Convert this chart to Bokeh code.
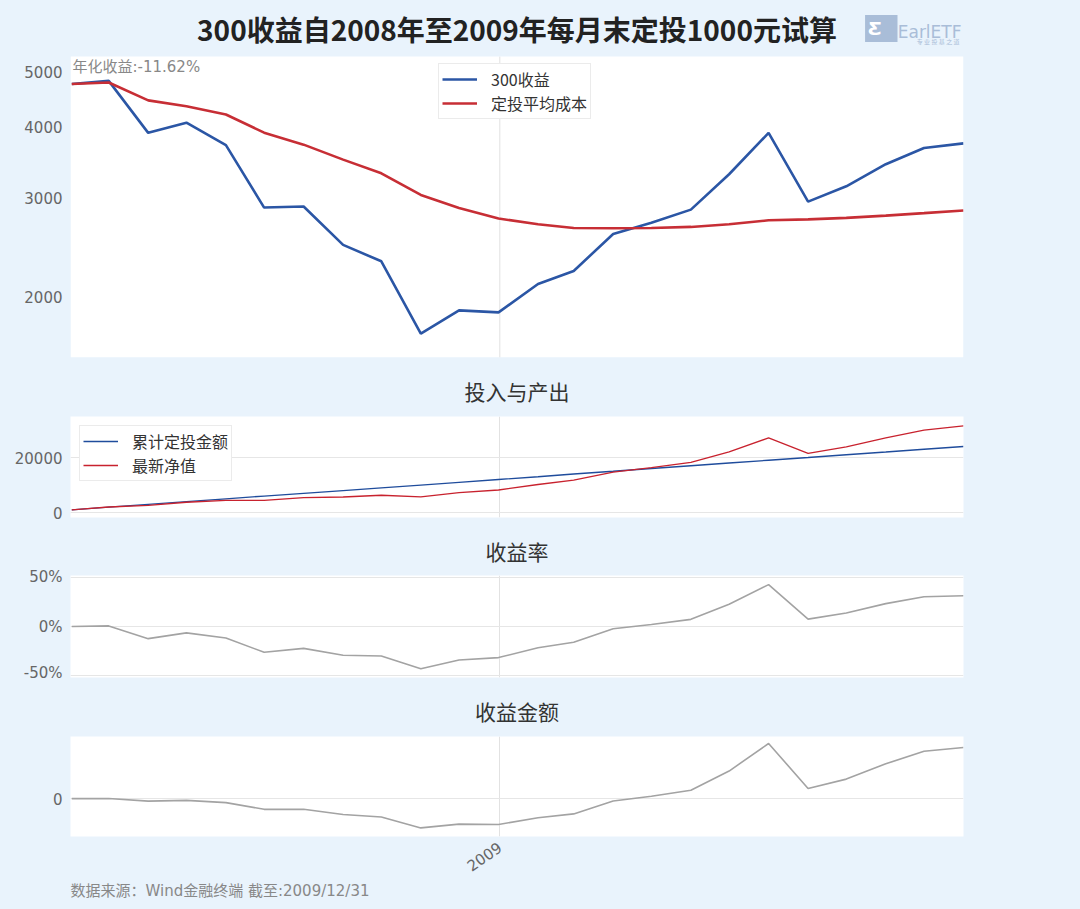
from bokeh.plotting import figure
from bokeh.models import (Range1d, FixedTicker, NumeralTickFormatter, DatetimeTickFormatter,
                          Legend, LegendItem, Label, Title)
from bokeh.layouts import column
from bokeh.embed import file_html
from bokeh.resources import INLINE
import pandas as pd

# ---------------- data ----------------
dates = ["2008-01-31", "2008-02-29", "2008-03-31", "2008-04-30", "2008-05-31", "2008-06-30",
         "2008-07-31", "2008-08-31", "2008-09-30", "2008-10-31", "2008-11-30", "2008-12-31",
         "2009-01-31", "2009-02-28", "2009-03-31", "2009-04-30", "2009-05-31", "2009-06-30",
         "2009-07-31", "2009-08-31", "2009-09-30", "2009-10-31", "2009-11-30", "2009-12-31"]
index_300 = [4761, 4822, 3903, 4067, 3714, 2880, 2892, 2474, 2315, 1725, 1896, 1880,
             2110, 2225, 2587, 2707, 2856, 3298, 3903, 2951, 3140, 3436, 3670, 3739.99]
avg_cost = [4761, 4791, 4454, 4350, 4206, 3906, 3720, 3500, 3311, 3032, 2876, 2754,
            2691, 2651, 2647, 2651, 2662, 2691, 2735, 2745, 2762, 2787, 2816, 2846.75]
invested = [1000, 2000, 3000, 4000, 5000, 6000, 7000, 8000, 9000, 10000, 11000, 12000,
            13000, 14000, 15000, 16000, 17000, 18000, 19000, 20000, 21000, 22000, 23000, 24000]
net_value = [1000, 2013, 2629, 3740, 4415, 4424, 5442, 5655, 6293, 5689, 7252, 8192,
             10193, 11750, 14660, 16338, 18239, 22060, 27114, 21501, 23874, 27124, 29975, 31530.54]
return_pct = [0, 0.6, -12.4, -6.5, -11.7, -26.3, -22.3, -29.3, -30.1, -43.1, -34.1, -31.7,
              -21.6, -16.1, -2.3, 2.1, 7.3, 22.6, 42.7, 7.5, 13.7, 23.3, 30.3, 31.38]
profit = [0, 13, -371, -260, -585, -1576, -1558, -2345, -2707, -4311, -3748, -3808,
          -2807, -2250, -340, 338, 1239, 4060, 8114, 1501, 2874, 5124, 6975, 7530.54]
price_ticks = [2000, 3000, 4000, 5000]
value_ticks = [0, 20000]
return_ticks = [-0.5, 0, 0.5]
profit_ticks = [0]
x_tick_dates = ["2009-01-01"]

title_main = "300收益自2008年至2009年每月末定投1000元试算"
footer = "数据来源：Wind金融终端 截至:2009/12/31"

# ---------------- style ----------------
BG = "#E9F3FC"
CJK = "Noto Sans CJK SC"
NUMF = "DejaVu Sans, Noto Sans CJK SC"
BLUE = "#2B56A5"
RED = "#C72E35"
GRAY = "#A3A3A3"
LOGO = "#A9BDD8"
GRID = "#E2E2E2"
W = 1080

x = pd.to_datetime(dates)
x_ms = [t.timestamp() * 1000 for t in x]
ret_frac = [r / 100.0 for r in return_pct]
tick_ms = [pd.Timestamp(d).timestamp() * 1000 for d in x_tick_dates]

x_start = pd.Timestamp("2008-01-30").timestamp() * 1000
x_end = x_ms[-1]
x_range = Range1d(start=x_start, end=x_end)
x_mid = (x_start + x_end) / 2.0


def make_fig(h, bt, bb, yr, ytype="linear", title="", standoff=22):
    p = figure(width=W, height=h, x_range=x_range, y_range=yr, x_axis_type="datetime",
               y_axis_type=ytype, output_backend="svg", toolbar_location=None, title=title,
               min_border_left=70, min_border_right=117, min_border_top=bt, min_border_bottom=bb)
    p.background_fill_color = "white"
    p.border_fill_color = BG
    p.outline_line_color = None
    p.xaxis.ticker = FixedTicker(ticks=tick_ms)
    p.xgrid.ticker = FixedTicker(ticks=tick_ms)
    p.xgrid.grid_line_color = GRID
    p.ygrid.grid_line_color = "#E6E6E6"
    p.xaxis.formatter = DatetimeTickFormatter(years="%Y", months="%Y", days="%Y", hours="%Y",
                                              minutes="%Y", seconds="%Y", milliseconds="%Y",
                                              microseconds="%Y", hourmin="%Y", minsec="%Y")
    for ax in (p.xaxis, p.yaxis):
        ax.axis_line_color = None
        ax.major_tick_line_color = None
        ax.minor_tick_line_color = None
        ax.major_tick_out = 0
        ax.major_tick_in = 0
        ax.minor_tick_out = 0
        ax.minor_tick_in = 0
        ax.major_label_text_font = NUMF
        ax.major_label_text_font_size = "15px"
        ax.major_label_text_color = "#666666"
    p.yaxis.major_label_standoff = 8
    if p.title is not None:
        p.title.align = "center"
        p.title.text_font = CJK
        p.title.text_color = "#333333"
        p.title.text_font_style = "normal"
        p.title.text_font_size = "21px"
        p.title.standoff = standoff
    return p


def style_legend(lg):
    lg.label_text_font = CJK
    lg.label_text_font_size = "16px"
    lg.label_text_color = "#333333"
    lg.border_line_color = "#D8D8D8"
    lg.background_fill_alpha = 1.0
    lg.glyph_width = 35
    lg.glyph_height = 20
    lg.label_height = 20
    lg.label_standoff = 14
    lg.padding = 3
    lg.spacing = 0
    lg.margin = 9


def end_label(p, yv, text):
    p.add_layout(Label(x=x_end, y=yv, text=text, x_offset=1, text_baseline="middle",
                       text_align="left", text_font=NUMF, text_font_size="15px",
                       text_color="#333333"))


# ---------------- panel 1 (frame spans the title strip too) ----------------
P1_BOTTOM = 1565
P1_PLOT_TOP = 5323       # top of the white plotting area
P1_FRAME_TOP = 6687      # top of the figure (title strip above the plotting area)
p1 = make_fig(361, 0, 4, Range1d(P1_BOTTOM, P1_FRAME_TOP), "log", title=None)
p1.background_fill_color = BG
p1.xaxis.visible = False
p1.xgrid.visible = False
p1.ygrid.visible = False
p1.yaxis.ticker = FixedTicker(ticks=price_ticks)
p1.yaxis.formatter = NumeralTickFormatter(format="0")
# white plotting area + the 2009 grid line inside it
p1.quad(left=[x_start], right=[x_end], bottom=[P1_BOTTOM], top=[P1_PLOT_TOP],
        fill_color="white", line_color=None)
p1.segment(x0=tick_ms, y0=[P1_BOTTOM] * len(tick_ms), x1=tick_ms, y1=[P1_PLOT_TOP] * len(tick_ms),
           line_color=GRID, line_width=1)
r1 = p1.line(x_ms, index_300, line_color=BLUE, line_width=2.6)
r2 = p1.line(x_ms, avg_cost, line_color=RED, line_width=2.6)
lg1 = Legend(items=[LegendItem(label="300收益", renderers=[r1]),
                    LegendItem(label="定投平均成本", renderers=[r2])], location=(368, 238))
style_legend(lg1)
p1.add_layout(lg1)
end_label(p1, index_300[-1], "3739.99")
end_label(p1, avg_cost[-1], "2846.75")
p1.add_layout(Label(x=x_start, y=P1_PLOT_TOP, text="年化收益:-11.62%", x_offset=2, y_offset=-1,
                    text_baseline="top", text_font=NUMF, text_font_size="15px",
                    text_color="#888888"))
p1.add_layout(Label(x=x_mid, y=P1_FRAME_TOP, y_offset=-28, text=title_main, text_align="center",
                    text_baseline="middle", text_font=CJK, text_font_size="28px",
                    text_font_style="bold", text_color="#222222"))
# logo (kept inside the frame's title strip, at its right end)
p1.add_layout(Label(x=x_end, y=P1_PLOT_TOP, x_offset=-66, y_offset=28, text=" Ƹ ",
                    text_align="right", text_baseline="middle", text_font="DejaVu Sans",
                    text_font_size="18px", text_font_style="bold", text_color="white",
                    background_fill_color=LOGO, padding=3))
p1.add_layout(Label(x=x_end, y=P1_PLOT_TOP, x_offset=-2, y_offset=25, text="EarlETF",
                    text_align="right", text_baseline="alphabetic", text_font="DejaVu Sans",
                    text_font_size="17px", text_color=LOGO))
p1.add_layout(Label(x=x_end, y=P1_PLOT_TOP, x_offset=-4, y_offset=15, text="专 业 投 基 之 道",
                    text_align="right", text_baseline="alphabetic", text_font=CJK,
                    text_font_size="6px", text_color=LOGO))

# ---------------- panel 2 ----------------
p2 = make_fig(161, 55, 5, Range1d(-1800, 34900), title="投入与产出")
p2.xaxis.visible = False
p2.yaxis.ticker = FixedTicker(ticks=value_ticks)
p2.yaxis.formatter = NumeralTickFormatter(format="0")
r3 = p2.line(x_ms, invested, line_color="#1F4C9C", line_width=1.3)
r4 = p2.line(x_ms, net_value, line_color="#C8222E", line_width=1.3)
lg2 = Legend(items=[LegendItem(label="累计定投金额", renderers=[r3]),
                    LegendItem(label="最新净值", renderers=[r4])], location="top_left")
style_legend(lg2)
p2.add_layout(lg2)
end_label(p2, 33300, "31530.54元")
end_label(p2, 25300, "24000.00元")

# ---------------- panel 3 ----------------
p3 = make_fig(159, 53, 4, Range1d(-0.52, 0.52), title="收益率", standoff=20)
p3.xaxis.visible = False
p3.yaxis.ticker = FixedTicker(ticks=return_ticks)
p3.yaxis.formatter = NumeralTickFormatter(format="0%")
p3.line(x_ms, ret_frac, line_color=GRAY, line_width=1.6)
end_label(p3, ret_frac[-1], "31.38%")

# ---------------- panel 4 ----------------
p4 = make_fig(227, 55, 72, Range1d(-5576, 9146), title="收益金额")
p4.yaxis.ticker = FixedTicker(ticks=profit_ticks)
p4.yaxis.formatter = NumeralTickFormatter(format="0")
p4.xaxis.major_label_orientation = 0.6
p4.xaxis.major_label_standoff = 9
p4.line(x_ms, profit, line_color=GRAY, line_width=1.6)
end_label(p4, profit[-1], "7530.54元")
p4.add_layout(Title(text=footer, align="left", text_font=NUMF, text_font_size="15px",
                    text_font_style="normal", text_color="#888888", standoff=0), "below")

layout = column(p1, p2, p3, p4, spacing=0)

html = file_html(layout, INLINE, title="300收益定投试算")
html = html.replace("</head>", "<style>html,body{background:#E9F3FC;}</style></head>", 1)
open("out.html", "w").write(html)
